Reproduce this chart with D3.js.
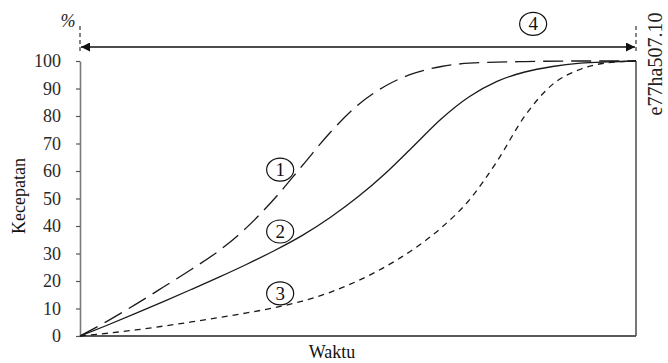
<!DOCTYPE html>
<html><head><meta charset="utf-8">
<script src="https://cdn.jsdelivr.net/npm/d3@7"></script>
<style>html,body{margin:0;padding:0;background:#fff;}svg{display:block;}</style>
</head><body>
<svg id="c" width="668" height="363"></svg>
<script>
// Data (time in % of total, speed in %)
const time1 = [0, 5, 10, 15, 20, 25, 30, 35, 40, 45, 50, 55, 60, 65, 70, 80, 90, 100];
const curve1 = [0, 5.5, 11.5, 17.8, 24.2, 31, 39.5, 50, 62, 74, 84, 91, 95.5, 98, 99.2, 99.8, 100, 100];
const time2 = [0, 5, 10, 15, 20, 25, 30, 35, 40, 45, 50, 55, 60, 65, 70, 75, 80, 85, 90, 95, 100];
const curve2 = [0, 4, 8.2, 12.5, 16.9, 21.4, 26.1, 31.1, 36.6, 43.1, 50.6, 59.3, 69.1, 79, 87, 92.6, 96, 98, 99.2, 99.7, 100];
const time3 = [0, 5, 10, 15, 20, 25, 30, 35, 40, 45, 50, 55, 60, 65, 70, 75, 80, 85, 90, 95, 100];
const curve3 = [0, 1, 2.2, 3.6, 5.1, 6.7, 8.4, 10.3, 12.7, 15.9, 20.1, 25.3, 31.6, 39.4, 49.4, 63.5, 80, 91.5, 97, 99.4, 100];
const yTicks = [0, 10, 20, 30, 40, 50, 60, 70, 80, 90, 100];
const labels = ["1", "2", "3", "4"];
const yTitle = "Kecepatan", xTitle = "Waktu", unit = "%", code = "e77ha507.10";

const svg = d3.select("#c");
const x = d3.scaleLinear().domain([0, 100]).range([80, 636]);
const y = d3.scaleLinear().domain([0, 100]).range([336, 61]);
const font = "'Liberation Serif', 'Times New Roman', serif";

// Left axis
const ax = svg.append("g").attr("transform", "translate(80,0)")
  .call(d3.axisLeft(y).tickValues(yTicks).tickSize(4).tickSizeOuter(0).tickPadding(15));
ax.select(".domain").attr("stroke", "#7a7a7a").attr("stroke-width", 1.6);
ax.selectAll(".tick line").attr("stroke", "#555").attr("stroke-width", 1.2);
ax.selectAll(".tick text").attr("font-family", font).attr("font-size", 18).attr("fill", "#2a2a2a");

// bottom and right frame
svg.append("line").attr("x1", x(0)).attr("x2", x(100)).attr("y1", y(0)).attr("y2", y(0))
  .attr("stroke", "#222").attr("stroke-width", 1.6);
svg.append("line").attr("x1", x(100)).attr("x2", x(100)).attr("y1", y(100)).attr("y2", y(0))
  .attr("stroke", "#555").attr("stroke-width", 1.6);

// curves
const line = d3.line().curve(d3.curveMonotoneX);
function draw(ts, vs, dash) {
  svg.append("path").attr("d", line(ts.map((t, i) => [x(t), y(vs[i])])))
    .attr("fill", "none").attr("stroke", "#1a1a1a").attr("stroke-width", 1.3)
    .attr("stroke-dasharray", dash);
}
draw(time1, curve1, "20,8");
draw(time2, curve2, null);
draw(time3, curve3, "6,5");

// top arrow with dashed guides
const defs = svg.append("defs");
["s", "e"].forEach(k => {
  defs.append("marker").attr("id", "ah" + k).attr("viewBox", "0 0 10 10")
    .attr("refX", 10).attr("refY", 5).attr("markerWidth", 10).attr("markerHeight", 9)
    .attr("markerUnits", "userSpaceOnUse").attr("orient", k === "s" ? "auto-start-reverse" : "auto")
    .append("path").attr("d", "M0,0L10,5L0,10Z").attr("fill", "#111");
});
const ay = 47;
svg.append("line").attr("x1", x(0) + 1).attr("x2", x(100) - 1).attr("y1", ay).attr("y2", ay)
  .attr("stroke", "#111").attr("stroke-width", 1.5)
  .attr("marker-start", "url(#ahs)").attr("marker-end", "url(#ahe)");
[0, 100].forEach(t => {
  svg.append("line").attr("x1", x(t)).attr("x2", x(t)).attr("y1", 26).attr("y2", 53)
    .attr("stroke", "#333").attr("stroke-width", 1.2).attr("stroke-dasharray", "4,3");
});

// circled labels
const lp = [[36, 60.5], [36, 38], [36, 15.5], [81.5, 113.5]];
lp.forEach((p, i) => {
  const g = svg.append("g").attr("transform", `translate(${x(p[0])},${y(p[1])})`);
  g.append("ellipse").attr("rx", 13.5).attr("ry", 11.5).attr("fill", "#fff")
    .attr("stroke", "#111").attr("stroke-width", 1.2);
  g.append("text").attr("text-anchor", "middle").attr("y", 6.5)
    .attr("font-family", font).attr("font-size", 19).attr("fill", "#111").text(labels[i]);
});

// texts
svg.append("text").attr("x", 68).attr("y", 27).attr("text-anchor", "middle")
  .attr("font-family", font).attr("font-size", 18).attr("font-style", "italic").attr("fill", "#222").text(unit);
svg.append("text").attr("transform", "translate(25,196) rotate(-90)").attr("text-anchor", "middle")
  .attr("font-family", font).attr("font-size", 18).attr("fill", "#111").text(yTitle);
svg.append("text").attr("x", 332).attr("y", 358).attr("text-anchor", "middle")
  .attr("font-family", font).attr("font-size", 18).attr("fill", "#111").text(xTitle);
svg.append("text").attr("transform", "translate(662,64) rotate(-90)").attr("text-anchor", "middle")
  .attr("font-family", font).attr("font-size", 20).attr("fill", "#222").text(code);
</script>
</body></html>
